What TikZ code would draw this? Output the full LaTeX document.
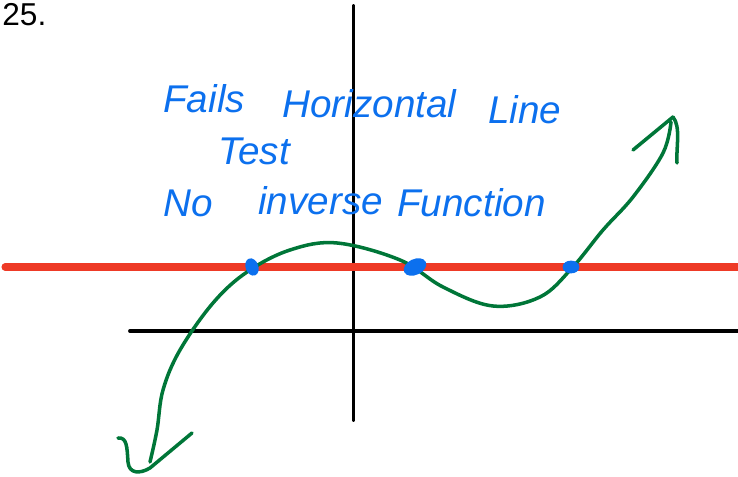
\documentclass[tikz,border=0pt]{standalone}
\usepackage{fontspec}
\setmainfont{Liberation Sans}
\usepackage{tkz-euclide}
\definecolor{penred}{RGB}{238,58,38}
\definecolor{pengreen}{RGB}{0,118,56}
\definecolor{penblue}{RGB}{12,112,238}
\tikzset{
  axis/.style={line width=2.2pt,black},
  hline/.style={line width=4pt,penred},
  graph/.style={line width=2pt,pengreen,line cap=round,line join=round},
  hit/.style={fill=penblue,draw=penblue,line width=1pt},
  note/.style={penblue,font=\fontsize{22}{26}\selectfont\itshape,anchor=base west,inner sep=0pt}
}
\begin{document}
\begin{tikzpicture}
            \useasboundingbox (0,0) rectangle (14.76,9.54);
            \tkzDefPoint(7.07,9.42){T}
            \tkzDefPoint(7.07,1.14){B}
            \tkzDefPoint(2.6,2.92){L}
            \tkzDefPoint(14.76,2.92){R}
            \tkzDefPoint(0.1,4.2){P}
            \tkzDefPoint(14.76,4.2){Q}
            \tkzDrawSegment[axis](T,B)
            \tkzDrawSegment[axis](L,R)
            \tkzDrawSegment[hline](P,Q)
            % the cubic
            \draw[graph] plot[smooth,tension=0.6] coordinates {(3.0,0.3) (3.14,0.94) (3.26,1.74)
              (3.6,2.54) (4.26,3.48) (4.94,4.1) (5.8,4.54) (6.74,4.68) (8.0,4.34) (8.86,3.8)
              (9.86,3.42) (10.8,3.6) (11.44,4.18) (12.06,4.94) (12.66,5.6) (13.26,6.48) (13.42,7.1)};
            \tkzDefPoint(13.46,7.2){U}
            \tkzDefPoint(12.66,6.54){V}
            \tkzDefPoint(3.0,0.18){D}
            \tkzDefPoint(3.84,0.88){E}
            \tkzDrawSegment[graph](V,U)
            \draw[graph] (U) .. controls (13.62,7.0) and (13.52,6.6) .. (13.54,6.28);
            \draw[graph] (E) -- (D) .. controls (2.8,0.06) and (2.58,0.06) .. (2.56,0.3)
              .. controls (2.54,0.6) and (2.54,0.8) .. (2.36,0.78);
            % crossings
            \fill[hit,rotate around={20:(5.04,4.2)}] (5.04,4.2) ellipse (0.11 and 0.16);
            \fill[hit,rotate around={25:(8.3,4.2)}] (8.3,4.2) ellipse (0.22 and 0.14);
            \fill[hit] (11.42,4.2) ellipse (0.15 and 0.11);
            \node[note] (w1) at (3.26,7.28) {Fails};
            \node[note] (w2) at (5.64,7.18) {Horizontal};
            \node[note] (w3) at (9.76,7.06) {Line};
            \node[note] (w4) at (4.36,6.24) {Test};
            \node[note] (w5) at (3.26,5.2) {No};
            \node[note] (w6) at (5.16,5.24) {inverse};
            \node[note] (w7) at (7.94,5.2) {Function};
            \node[anchor=base west,inner sep=0pt,font=\fontsize{18}{22}\selectfont] (num) at (0.04,9.02) {25.};
        \end{tikzpicture}
\end{document}
